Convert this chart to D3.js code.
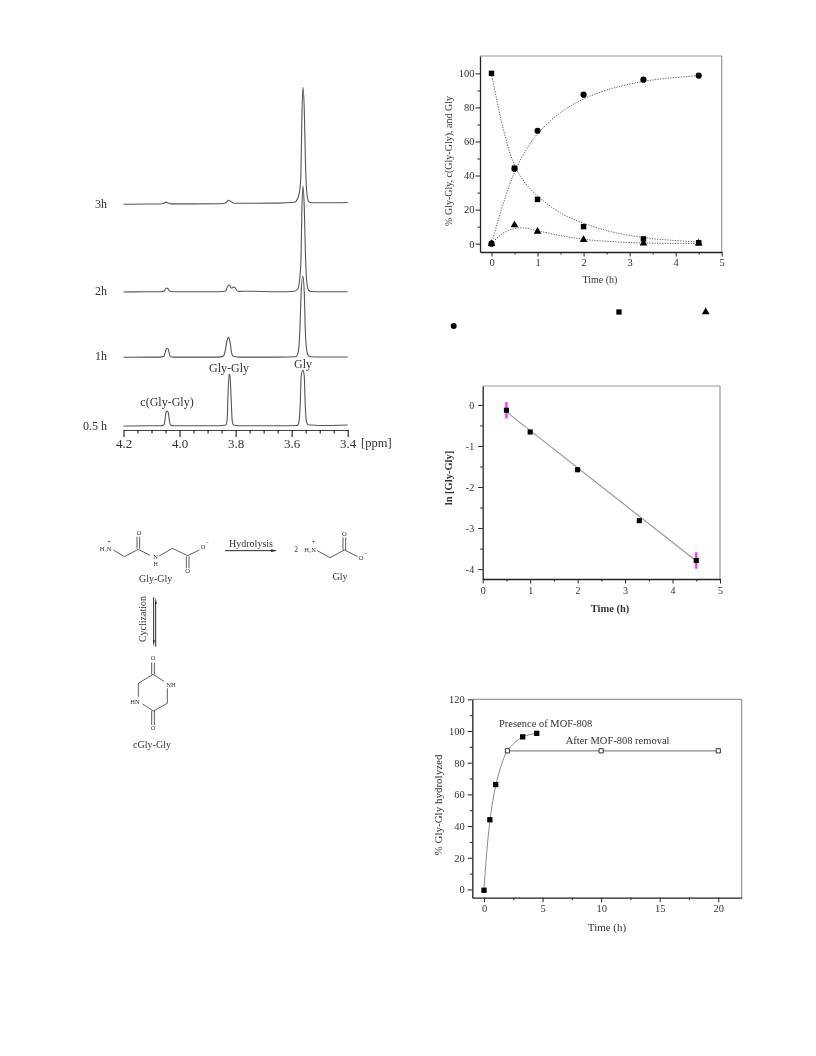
<!DOCTYPE html>
<html><head><meta charset="utf-8">
<script src="https://cdn.jsdelivr.net/npm/d3@7/dist/d3.min.js"></script>
<style>
html,body{margin:0;padding:0;background:#fff}
svg{display:block;filter:blur(0.5px)}
text{font-family:"Liberation Serif",serif;fill:#333}
</style></head><body><svg id="c" width="816" height="1056"></svg>
<script>
// ---- NMR spectra: [ppm, intensity]
const spec05h=[[4.2,0],[4.12,0.3],[4.07,0.2],[4.056,1],[4.052,6],[4.048,14],[4.044,15],[4.04,13],[4.036,5],[4.032,1],[4.02,0.2],[3.95,0.2],[3.86,0.2],[3.835,1],[3.83,7],[3.827,32],[3.823,52],[3.82,50],[3.816,28],[3.812,5],[3.807,1],[3.79,0.3],[3.65,0.3],[3.58,0.5],[3.574,4],[3.569,25],[3.566,50],[3.56,56],[3.555,50],[3.552,25],[3.547,4],[3.54,1],[3.53,1],[3.5,0.5],[3.4,1]];
const spec1h=[[4.2,0],[4.12,0.2],[4.07,0.2],[4.056,1],[4.052,4],[4.048,8],[4.044,9],[4.04,8],[4.036,3],[4.032,0.5],[4.02,0.2],[3.95,0.2],[3.86,0.2],[3.845,1],[3.838,5],[3.832,15],[3.828,19],[3.825,20],[3.822,18],[3.818,12],[3.814,4],[3.808,1],[3.79,0.2],[3.65,0.2],[3.585,0.6],[3.576,6],[3.571,25],[3.566,65],[3.56,81],[3.555,65],[3.551,25],[3.545,5],[3.54,1.5],[3.53,0.5],[3.5,0.3],[3.4,0.3]];
const spec2h=[[4.2,0],[4.12,0.2],[4.07,0.2],[4.055,1],[4.05,3],[4.046,4],[4.042,3.5],[4.036,1],[4.02,0.2],[3.95,0.2],[3.86,0.3],[3.835,1],[3.828,6],[3.822,7],[3.816,4],[3.81,4.5],[3.804,5],[3.797,2],[3.788,0.6],[3.75,0.8],[3.65,0.3],[3.59,0.8],[3.578,3],[3.571,14],[3.567,30],[3.564,75],[3.56,106],[3.555,85],[3.551,40],[3.546,10],[3.54,2],[3.53,0.5],[3.5,0.3],[3.4,0.3]];
const spec3h=[[4.2,0],[4.12,0.3],[4.07,0.3],[4.056,1],[4.048,2.2],[4.042,1.5],[4.03,0.4],[3.95,0.4],[3.85,0.6],[3.835,1.5],[3.825,4],[3.818,3],[3.805,1],[3.75,1],[3.65,1.2],[3.59,2],[3.578,6],[3.571,14],[3.567,30],[3.564,80],[3.56,117],[3.555,95],[3.551,45],[3.546,12],[3.54,3],[3.53,1.5],[3.5,1.5],[3.4,1.8]];
const specOffsets=[0,68.7,134,221.7];
const specLabels=["0.5 h","1h","2h","3h"];
const ppmTicks=[4.2,4.0,3.8,3.6,3.4];
// ---- Kinetics
const timeA=[0,0.5,1,2,3.3,4.5];
const glyA=[0,44,66.3,87.5,96.3,98.7];
const glyGlyA=[100,44.3,26,10,2.8,0.5];
const cGlyA=[0,11,7.2,2.3,0.3,0.2];
const fitGlyT=[0,0.25,0.5,0.75,1,1.5,2,2.6,3.3,3.9,4.5];
const fitGly=[0,23,42,55,64.5,77,85,91,95.3,97.3,98.7];
const fitGlyGlyT=[0,0.25,0.5,0.75,1,1.5,2,2.6,3.3,3.9,4.5];
const fitGlyGly=[100,68,46,35,28,18,12,7,3.6,2,1];
const fitCGlyT=[0,0.25,0.5,0.7,1,1.5,2,2.6,3.3,3.9,4.5];
const fitCGly=[0,6.2,8.8,9.2,7.6,4.7,2.6,1.2,0.4,0.2,0.1];
const yTicksA=[0,20,40,60,80,100];
// ---- ln plot
const timeB=[0.5,1,2,3.3,4.5];
const lnB=[-0.13,-0.66,-1.58,-2.82,-3.79];
const fitB=[-0.17,-3.8];
const fitBT=[0.5,4.5];
const errB=[0.2,0,0,0,0.2];
// ---- Leaching test
const timeC=[0,0.5,1,3.3,4.5];
const hydC=[-0.5,44,66.2,96.3,98.5];
const curveCT=[0,0.25,0.5,0.75,1,1.5,2,2.6,3.3,3.9,4.5];
const curveC=[0,25,43,56,65.5,79,87.5,92.5,96.3,97.7,98.5];
const timeAfter=[2,10,20];
const hydAfter=[87.5,87.5,87.5];

const svg=d3.select("#c");
const ink="#222";

function frame(o){
  const g=svg.append("g");
  const x=d3.scaleLinear().domain(o.xd).range([o.l,o.r]);
  const y=d3.scaleLinear().domain(o.yd).range([o.b,o.t]);
  g.append("line").attr("x1",o.l).attr("x2",o.r).attr("y1",o.t).attr("y2",o.t).attr("stroke","#999").attr("stroke-width",1.2);
  g.append("line").attr("x1",o.r).attr("x2",o.r).attr("y1",o.t).attr("y2",o.b).attr("stroke","#999").attr("stroke-width",1.2);
  const ax=g.append("g").attr("transform",`translate(0,${o.b})`).call(d3.axisBottom(x).tickValues(o.xt).tickSize(4.5).tickPadding(o.xp).tickSizeOuter(0).tickFormat(d3.format("d")));
  const ay=g.append("g").attr("transform",`translate(${o.l},0)`).call(d3.axisLeft(y).tickValues(o.yt).tickSize(4.5).tickPadding(o.yp).tickSizeOuter(0).tickFormat(d=>String(d).replace("\u2212","-")));
  g.append("g").attr("transform",`translate(0,${o.b})`).call(d3.axisBottom(x).tickValues(o.xm).tickSize(2.5).tickFormat("").tickSizeOuter(0)).select(".domain").remove();
  g.append("g").attr("transform",`translate(${o.l},0)`).call(d3.axisLeft(y).tickValues(o.ym).tickSize(2.5).tickFormat("").tickSizeOuter(0)).select(".domain").remove();
  g.selectAll(".domain").attr("stroke",ink).attr("stroke-width",1.3);
  g.selectAll(".tick line").attr("stroke",ink);
  g.selectAll(".tick text").attr("font-size",o.fs).attr("font-family","Liberation Serif").attr("fill","#444");
  g.append("text").attr("x",o.xlx).attr("y",o.xly).attr("text-anchor","middle").attr("font-size",o.fl).attr("font-weight",o.w||400).attr("fill","#444").text(o.xl);
  g.append("text").attr("transform",`translate(${o.ylx},${o.yly}) rotate(-90)`).attr("text-anchor","middle").attr("font-size",o.fl).attr("font-weight",o.w||400).attr("fill","#444").text(o.yl);
  return {x,y};
}
function sym(type,size){return d3.symbol().type(type).size(size)();}
function marks(xs,ys,x,y,type,size,fill,stroke){
  svg.append("g").selectAll("path").data(xs).join("path")
    .attr("d",sym(type,size)).attr("transform",(d,i)=>`translate(${x(d)},${y(ys[i])})`)
    .attr("fill",fill||"#000").attr("stroke",stroke||"none");
}

// ---- NMR panel
const px=d3.scaleLinear().domain([4.2,3.4]).range([123.5,347.7]);
const py=d3.scaleLinear().domain([0,360]).range([426,66]);
const spectra=[spec05h,spec1h,spec2h,spec3h];
const specLine=(off)=>d3.line().x(d=>px(d[0])).y(d=>py(d[1]+off)).curve(d3.curveMonotoneX);
spectra.forEach((s,i)=>{
  svg.append("path").datum(s).attr("d",specLine(specOffsets[i])).attr("fill","none").attr("stroke","#555").attr("stroke-width",1.1);
});
const pAxis=svg.append("g").attr("transform","translate(0,430)").call(d3.axisBottom(px).tickValues(ppmTicks).tickSize(7).tickPadding(2).tickSizeOuter(0).tickFormat(d3.format(".1f")));
svg.append("g").attr("transform","translate(0,430)").call(d3.axisBottom(px).tickValues(d3.range(16).map(i=>4.2-(i+1)*0.05).filter(v=>Math.abs((v*5)-Math.round(v*5))>0.01)).tickSize(3.5).tickFormat("").tickSizeOuter(0)).select(".domain").remove();
pAxis.selectAll(".tick text").attr("font-size",13).attr("font-family","Liberation Serif").attr("fill","#333");
pAxis.select(".domain").attr("stroke","#444");
const tLabel=(t,xx,yy,a,fs,w)=>svg.append("text").attr("x",xx).attr("y",yy).attr("text-anchor",a).attr("font-size",fs).attr("font-weight",w||400).text(t);
tLabel("[ppm]",361,447,"start",12.5);
const specLabelY=[430,360,295,208];
specLabels.forEach((t,i)=>tLabel(t,107,specLabelY[i],"end",12));
tLabel("c(Gly-Gly)",167,406,"middle",12);
tLabel("Gly-Gly",229,372,"middle",12);
tLabel("Gly",303,368,"middle",12);

// ---- Kinetics panel
const A=frame({l:480,r:721.7,t:56,b:252,xd:[-0.25,5],yd:[-4.9,110.2],
  xt:[0,1,2,3,4,5],xm:[0.5,1.5,2.5,3.5,4.5],yt:yTicksA,ym:[10,30,50,70,90],xp:2,yp:1,fs:10.5,fl:10,
  xl:"Time (h)",xlx:600,xly:283,yl:"% Gly-Gly, c(Gly-Gly), and Gly",ylx:452,yly:161});
const dotted=(ts,vs,sc)=>{
  svg.append("path").datum(ts.map((t,i)=>[t,vs[i]])).attr("d",d3.line().x(d=>sc.x(d[0])).y(d=>sc.y(d[1])).curve(d3.curveCatmullRom))
   .attr("fill","none").attr("stroke","#555").attr("stroke-width",0.9).attr("stroke-dasharray","1.3 1.3");
};
dotted(fitGlyT,fitGly,A);dotted(fitGlyGlyT,fitGlyGly,A);dotted(fitCGlyT,fitCGly,A);
marks(timeA,glyA,A.x,A.y,d3.symbolCircle,30);
marks(timeA,glyGlyA,A.x,A.y,d3.symbolSquare,30);
marks(timeA,cGlyA,A.x,A.y,d3.symbolTriangle,26);
// stray legend symbols
svg.append("path").attr("d",sym(d3.symbolSquare,28)).attr("transform","translate(619,312)");
svg.append("path").attr("d",sym(d3.symbolTriangle,26)).attr("transform","translate(705.7,312)");
svg.append("path").attr("d",sym(d3.symbolCircle,28)).attr("transform","translate(453.7,326)");

// ---- ln panel
const B=frame({l:482.7,r:720,t:386,b:579,xd:[0,5],yd:[-4.24,0.46],
  xt:[0,1,2,3,4,5],xm:[0.5,1.5,2.5,3.5,4.5],yt:[0,-1,-2,-3,-4],ym:[-0.5,-1.5,-2.5,-3.5],xp:3,yp:4,fs:10,fl:10.5,w:700,
  xl:"Time (h)",xlx:610,xly:612,yl:"ln [Gly-Gly]",ylx:452,yly:478});
svg.append("path").datum(fitBT.map((t,i)=>[t,fitB[i]])).attr("d",d3.line().x(d=>B.x(d[0])).y(d=>B.y(d[1]))).attr("stroke","#999").attr("stroke-width",1.2).attr("fill","none");
svg.append("g").selectAll("line").data(timeB.filter((t,i)=>errB[i]>0)).join("line")
  .attr("x1",d=>B.x(d)).attr("x2",d=>B.x(d))
  .attr("y1",d=>{const i=timeB.indexOf(d);return B.y(lnB[i]+errB[i]);})
  .attr("y2",d=>{const i=timeB.indexOf(d);return B.y(lnB[i]-errB[i]);})
  .attr("stroke","#f23cf2").attr("stroke-width",2.4);
marks(timeB,lnB,B.x,B.y,d3.symbolSquare,26);

// ---- Leaching panel
const C=frame({l:472.3,r:741.7,t:699.3,b:897.7,xd:[-1,22],yd:[-5.2,120],
  xt:[0,5,10,15,20],xm:[2.5,7.5,12.5,17.5],yt:[0,20,40,60,80,100,120],ym:[10,30,50,70,90,110],xp:2,yp:3,fs:10.5,fl:11,w:400,
  xl:"Time (h)",xlx:607,xly:931,yl:"% Gly-Gly hydrolyzed",ylx:442,yly:805});
svg.append("path").datum(curveCT.map((t,i)=>[t,curveC[i]])).attr("d",d3.line().x(d=>C.x(d[0])).y(d=>C.y(d[1])).curve(d3.curveCatmullRom)).attr("stroke","#888").attr("stroke-width",1).attr("fill","none");
svg.append("path").datum(timeAfter.map((t,i)=>[t,hydAfter[i]])).attr("d",d3.line().x(d=>C.x(d[0])).y(d=>C.y(d[1]))).attr("stroke","#888").attr("stroke-width",1.2).attr("fill","none");
marks(timeC,hydC,C.x,C.y,d3.symbolSquare,28);
marks(timeAfter,hydAfter,C.x,C.y,d3.symbolSquare,18,"#fff","#333");
tLabel("Presence of MOF-808",499,727,"start",10.5);
tLabel("After MOF-808 removal",565.7,744,"start",10.5);

// ---- Reaction scheme (structures, coordinates in a 3x drawing grid)
const sx=d3.scaleLinear().domain([0,870]).range([90,380]);
const sy=d3.scaleLinear().domain([0,720]).range([520,760]);
const bondPaths=[
 [[70,90],[103,110],[145,88],[180,106]],[[141,86],[141,50]],[[149,86],[149,50]],
 [[208,108],[247,85],[293,107],[328,90]],[[289,109],[289,145]],[[297,109],[297,145]],
 [[682,92],[720,113],[763,90],[803,110]],[[759,90],[759,52]],[[767,90],[767,52]],
 [[189,463],[222,484]],[[232,505],[232,550],[190,573],[158,552]],[[145,530],[145,490],[189,463]],
 [[185,463],[185,428]],[[193,463],[193,428]],[[185,573],[185,615]],[[193,573],[193,615]]
];
const bl=d3.line().x(d=>sx(d[0])).y(d=>sy(d[1]));
svg.append("g").selectAll("path").data(bondPaths).join("path").attr("d",bl).attr("fill","none").attr("stroke","#333").attr("stroke-width",0.8);
const arrowPaths=[[[405,92],[545,92]],[[197,380],[197,245]],[[191,232],[191,368]]];
svg.append("g").selectAll("path").data(arrowPaths).join("path").attr("d",bl).attr("fill","none").attr("stroke","#111").attr("stroke-width",0.9);
const headPaths=[[[562,92],[543,88],[543,96]],[[197,232],[200,252],[195,252]],[[191,380],[189,360],[194,360]]];
svg.append("g").selectAll("path").data(headPaths).join("path").attr("d",d=>bl(d)+"Z").attr("fill","#222");
const sT=[["H\u2083N",47,94,6.5],["+",57,72,6.5],["O",147,45,6.5],["N",197,118,6.5],["H",197,137,6],["O",293,160,6.5],["O",339,87,6.5],["-",352,72,7],
 ["2",618,97,7.5],["H\u2083N",660,97,6.5],["+",671,72,6.5],["O",763,48,6.5],["O",813,120,6.5],["-",826,104,7],
 ["O",189,421,6.5],["NH",243,500,6.5],["HN",135,552,6.5],["O",189,630,6.5]];
svg.append("g").selectAll("text").data(sT).join("text").attr("x",d=>sx(d[1])).attr("y",d=>sy(d[2])).attr("text-anchor","middle").attr("font-size",d=>d[3]).text(d=>d[0]);
const sL=[["Gly-Gly",197,186],["Gly",750,180],["cGly-Gly",186,684],["Hydrolysis",483,80]];
svg.append("g").selectAll("text").data(sL).join("text").attr("x",d=>sx(d[1])).attr("y",d=>sy(d[2])).attr("text-anchor","middle").attr("font-size",10).text(d=>d[0]);
svg.append("text").attr("transform",`translate(${sx(168)},${sy(297)}) rotate(-90)`).attr("text-anchor","middle").attr("font-size",10).text("Cyclization");
</script></body></html>
